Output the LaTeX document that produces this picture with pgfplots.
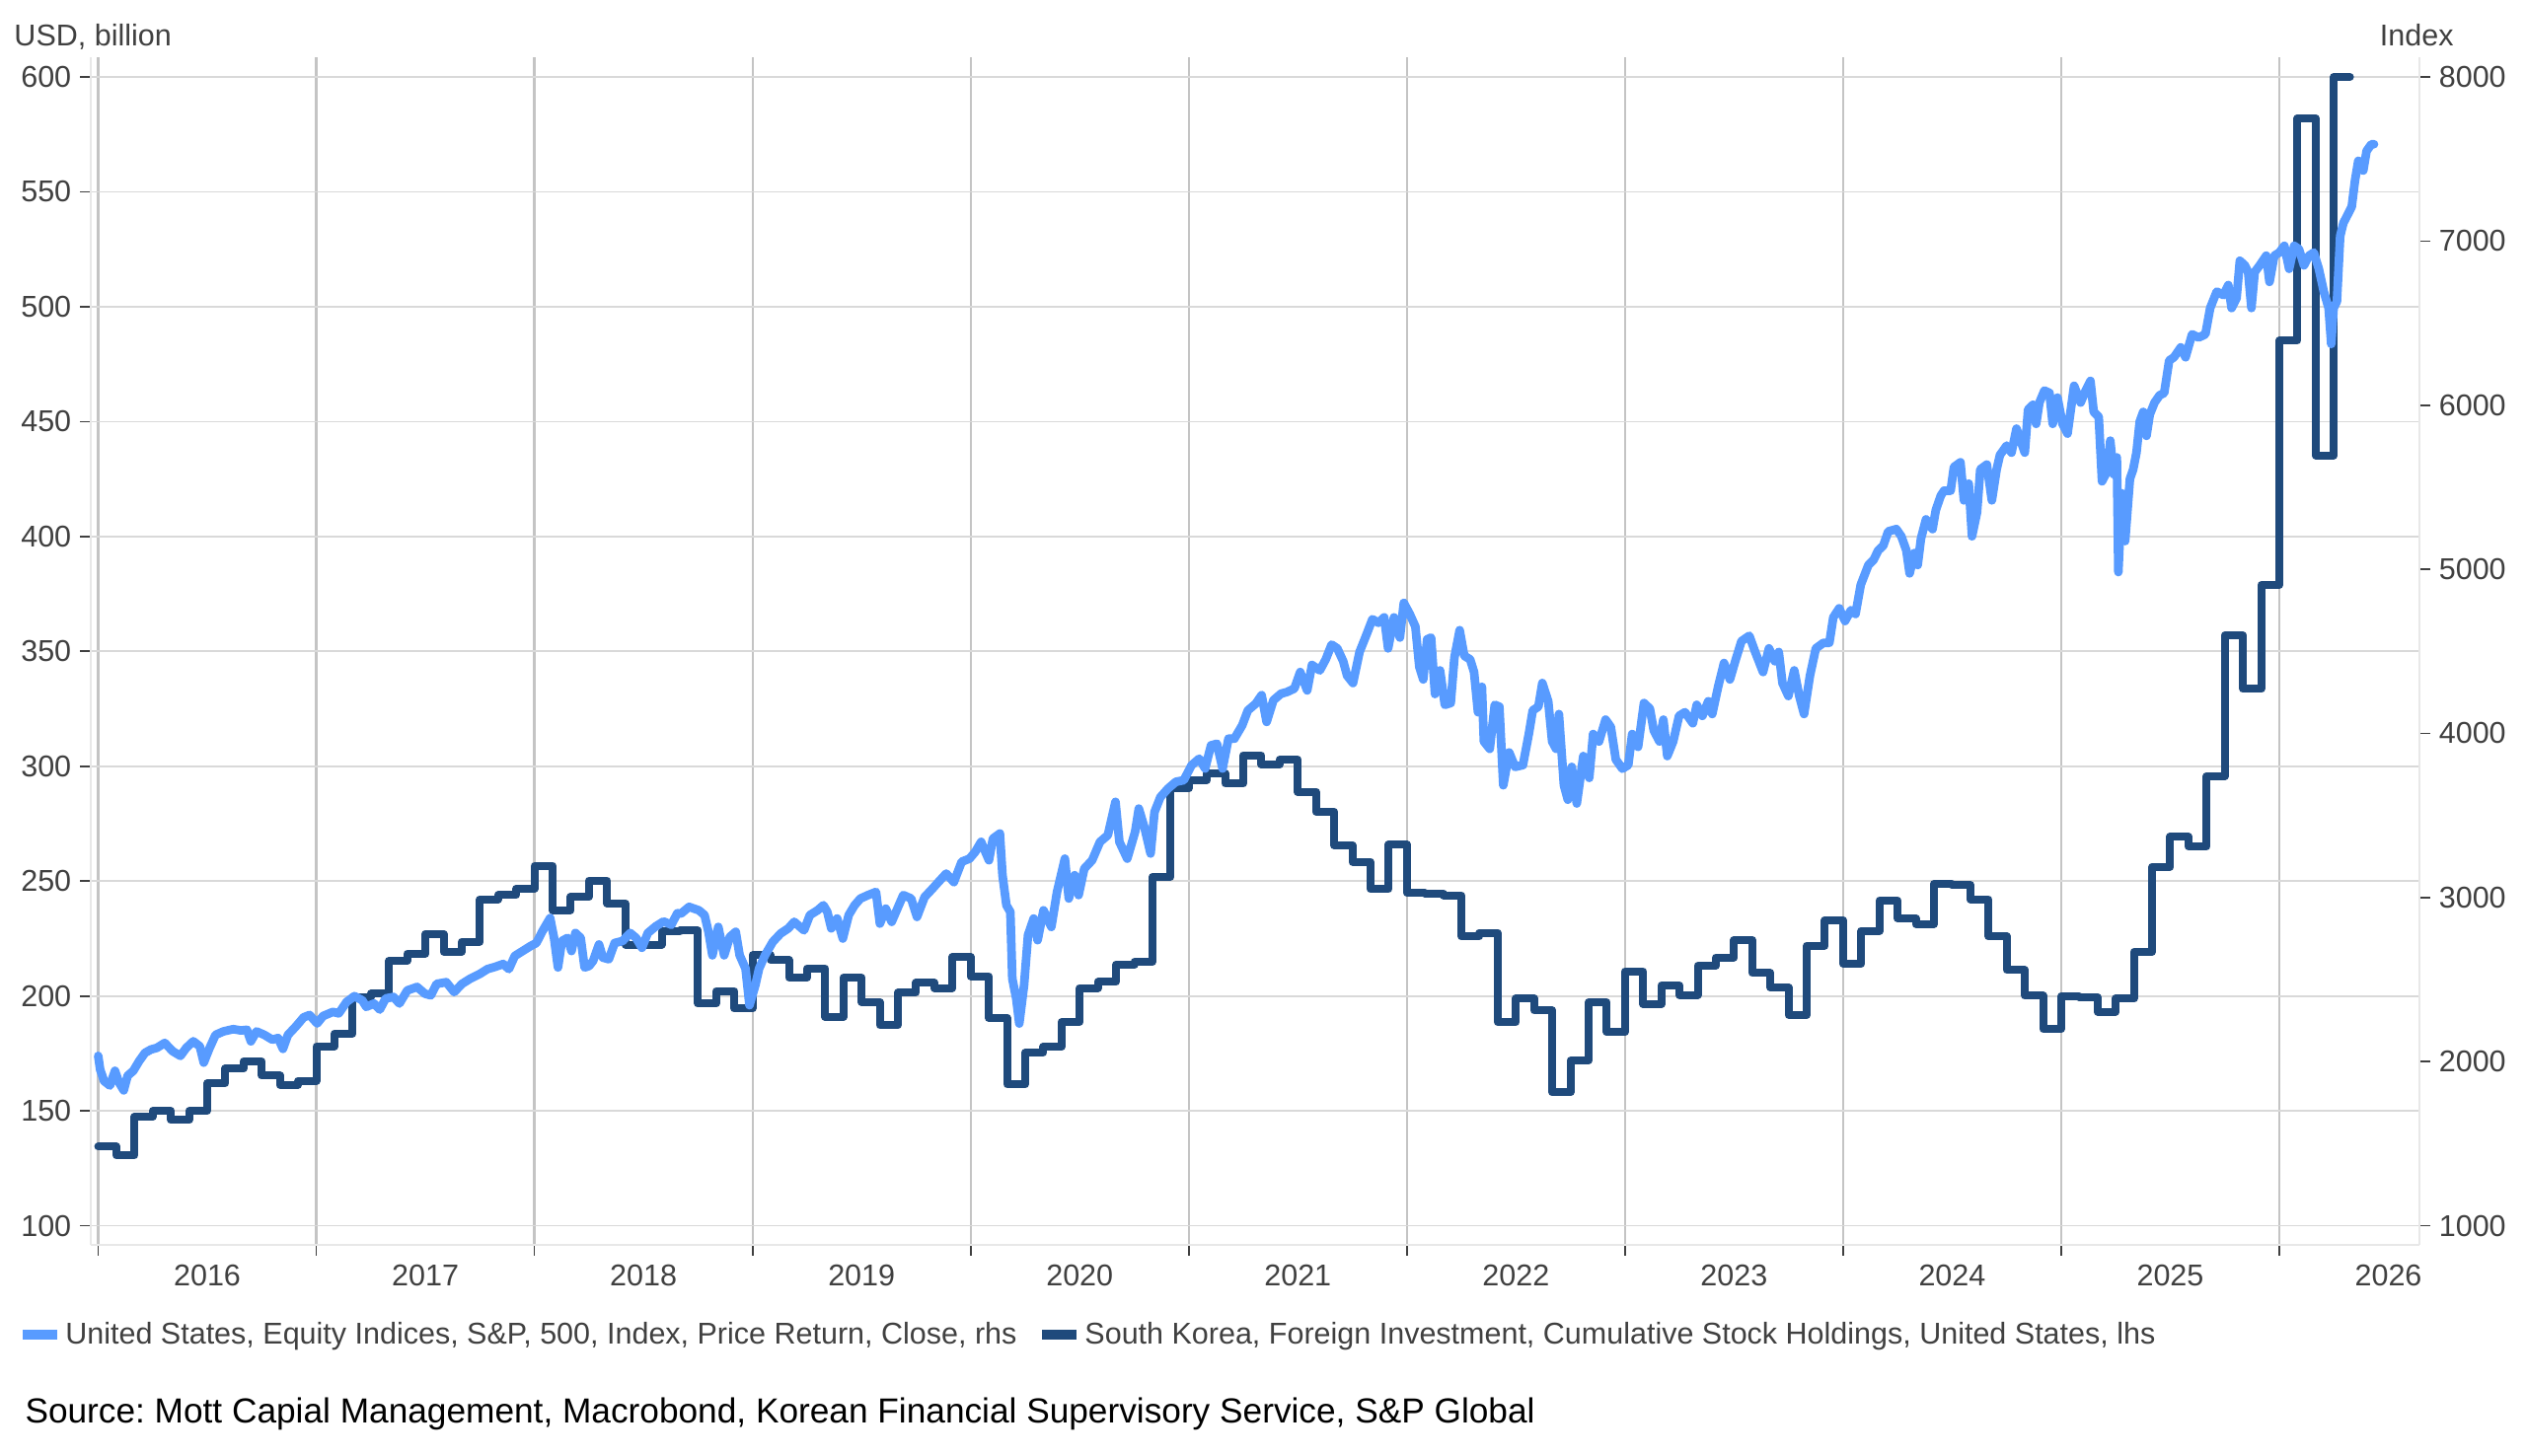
\documentclass[border=0pt]{standalone}
\usepackage{fontspec}
\setmainfont{Liberation Sans}
\usepackage{pgfplots}
\usepackage{pgfplotstable}
\pgfplotsset{compat=1.18}
\definecolor{lightser}{HTML}{589BFF}
\definecolor{darkser}{HTML}{1F4A7C}
\definecolor{txt}{HTML}{404040}
\definecolor{gridh}{HTML}{D9D9D9}
\definecolor{gridv}{HTML}{C4C4C4}
\frenchspacing

\pgfplotstableread{
x y
2016.0000 134.4
2016.0833 130.6
2016.1667 147.4
2016.2500 150.0
2016.3333 146.0
2016.4167 150.0
2016.5000 162.0
2016.5833 168.4
2016.6667 171.6
2016.7500 165.3
2016.8333 161.3
2016.9167 163.1
2017.0000 178.1
2017.0833 183.6
2017.1667 199.6
2017.2500 201.0
2017.3333 215.3
2017.4167 218.4
2017.5000 227.0
2017.5833 219.3
2017.6667 223.6
2017.7500 242.0
2017.8333 243.9
2017.9167 246.7
2018.0000 256.7
2018.0833 237.4
2018.1667 243.1
2018.2500 250.3
2018.3333 240.3
2018.4167 222.4
2018.5000 222.4
2018.5833 228.0
2018.6667 228.5
2018.7500 196.7
2018.8333 202.2
2018.9167 194.5
2019.0000 217.7
2019.0833 215.6
2019.1667 208.0
2019.2500 212.0
2019.3333 191.0
2019.4167 208.0
2019.5000 197.4
2019.5833 187.3
2019.6667 201.4
2019.7500 205.7
2019.8333 203.5
2019.9167 217.0
2020.0000 208.6
2020.0833 190.5
2020.1667 161.5
2020.2500 175.3
2020.3333 177.9
2020.4167 188.7
2020.5000 203.5
2020.5833 206.1
2020.6667 213.7
2020.7500 214.9
2020.8333 251.8
2020.9167 290.3
2021.0000 293.9
2021.0833 296.8
2021.1667 292.4
2021.2500 304.8
2021.3333 300.7
2021.4167 302.9
2021.5000 288.9
2021.5833 280.2
2021.6667 265.6
2021.7500 258.4
2021.8333 246.5
2021.9167 265.9
2022.0000 244.9
2022.0833 244.6
2022.1667 243.8
2022.2500 225.9
2022.3333 227.5
2022.4167 188.6
2022.5000 198.9
2022.5833 193.7
2022.6667 158.1
2022.7500 171.9
2022.8333 197.3
2022.9167 184.3
2023.0000 210.8
2023.0833 196.5
2023.1667 204.6
2023.2500 200.5
2023.3333 213.2
2023.4167 216.8
2023.5000 224.3
2023.5833 210.0
2023.6667 203.7
2023.7500 191.7
2023.8333 221.9
2023.9167 233.0
2024.0000 214.0
2024.0833 228.4
2024.1667 241.6
2024.2500 233.8
2024.3333 231.3
2024.4167 248.8
2024.5000 248.3
2024.5833 242.1
2024.6667 225.9
2024.7500 211.3
2024.8333 200.1
2024.9167 185.6
2025.0000 199.9
2025.0833 199.5
2025.1667 193.2
2025.2500 198.8
2025.3333 219.2
2025.4167 256.2
2025.5000 269.3
2025.5833 265.0
2025.6667 295.7
2025.7500 357.0
2025.8333 333.6
2025.9167 378.9
2026.0000 485.2
2026.0833 582.0
2026.1667 435.3
2026.2500 600.0
2026.3240 600.0
}\koreatable

\pgfplotstableread{
x y
2016.000 2035
2016.009 1952
2016.027 1882
2016.054 1854
2016.077 1944
2016.095 1874
2016.117 1825
2016.135 1914
2016.161 1944
2016.188 2004
2016.215 2054
2016.242 2074
2016.269 2084
2016.305 2114
2016.341 2064
2016.377 2035
2016.404 2084
2016.436 2124
2016.466 2093
2016.484 1994
2016.511 2084
2016.538 2163
2016.574 2184
2016.619 2198
2016.655 2190
2016.682 2194
2016.700 2124
2016.726 2184
2016.762 2163
2016.798 2134
2016.825 2144
2016.847 2078
2016.870 2163
2016.906 2214
2016.942 2270
2016.969 2284
2017.004 2233
2017.031 2278
2017.076 2303
2017.103 2294
2017.139 2364
2017.175 2399
2017.211 2373
2017.229 2334
2017.265 2354
2017.291 2317
2017.318 2385
2017.354 2394
2017.381 2354
2017.417 2434
2017.462 2455
2017.498 2414
2017.525 2404
2017.552 2474
2017.596 2484
2017.632 2424
2017.668 2474
2017.704 2504
2017.749 2534
2017.785 2564
2017.821 2578
2017.857 2595
2017.883 2564
2017.910 2644
2017.946 2674
2017.982 2704
2018.009 2723
2018.036 2793
2018.072 2875
2018.090 2754
2018.108 2574
2018.126 2735
2018.152 2754
2018.170 2674
2018.188 2784
2018.212 2754
2018.230 2574
2018.251 2583
2018.269 2614
2018.296 2714
2018.314 2634
2018.341 2624
2018.368 2723
2018.404 2735
2018.439 2784
2018.466 2754
2018.493 2694
2018.520 2784
2018.556 2824
2018.592 2854
2018.628 2834
2018.655 2904
2018.673 2903
2018.709 2943
2018.754 2922
2018.780 2893
2018.798 2791
2018.816 2648
2018.843 2821
2018.870 2648
2018.896 2760
2018.923 2791
2018.941 2648
2018.968 2567
2018.986 2344
2019.013 2466
2019.030 2567
2019.057 2648
2019.093 2730
2019.129 2781
2019.164 2812
2019.191 2852
2019.236 2800
2019.263 2893
2019.298 2922
2019.325 2953
2019.343 2912
2019.361 2812
2019.388 2872
2019.414 2750
2019.441 2893
2019.468 2953
2019.495 2994
2019.530 3015
2019.566 3034
2019.584 2841
2019.611 2932
2019.638 2852
2019.664 2932
2019.691 3015
2019.727 2994
2019.754 2882
2019.789 3003
2019.825 3054
2019.852 3094
2019.888 3146
2019.923 3094
2019.959 3218
2019.995 3237
2020.021 3278
2020.048 3339
2020.084 3227
2020.102 3359
2020.134 3390
2020.146 3136
2020.164 2953
2020.182 2912
2020.191 2506
2020.209 2385
2020.223 2232
2020.245 2466
2020.263 2771
2020.289 2872
2020.307 2740
2020.334 2922
2020.370 2821
2020.396 3034
2020.432 3237
2020.450 2994
2020.477 3136
2020.495 3015
2020.521 3176
2020.557 3227
2020.593 3339
2020.629 3380
2020.664 3583
2020.682 3339
2020.718 3237
2020.754 3400
2020.771 3542
2020.798 3421
2020.825 3268
2020.843 3521
2020.870 3612
2020.905 3664
2020.941 3705
2020.977 3715
2021.013 3806
2021.048 3846
2021.075 3786
2021.102 3927
2021.129 3937
2021.155 3786
2021.182 3968
2021.209 3968
2021.245 4049
2021.271 4140
2021.307 4181
2021.334 4233
2021.357 4070
2021.388 4202
2021.423 4242
2021.450 4252
2021.484 4273
2021.511 4374
2021.543 4262
2021.565 4417
2021.601 4384
2021.628 4451
2021.655 4541
2021.681 4518
2021.708 4440
2021.726 4352
2021.753 4307
2021.783 4496
2021.816 4606
2021.842 4696
2021.869 4674
2021.896 4707
2021.914 4518
2021.941 4707
2021.968 4584
2021.986 4795
2022.013 4728
2022.039 4651
2022.057 4406
2022.075 4329
2022.093 4573
2022.111 4584
2022.129 4240
2022.152 4384
2022.174 4174
2022.201 4185
2022.218 4462
2022.242 4629
2022.263 4473
2022.290 4451
2022.308 4374
2022.326 4129
2022.344 4284
2022.353 3951
2022.380 3906
2022.403 4174
2022.424 4163
2022.442 3684
2022.469 3884
2022.496 3796
2022.532 3807
2022.559 3996
2022.577 4140
2022.603 4163
2022.621 4307
2022.648 4196
2022.666 3951
2022.684 3906
2022.697 4118
2022.720 3684
2022.738 3596
2022.756 3796
2022.779 3573
2022.809 3862
2022.836 3729
2022.854 3996
2022.881 3951
2022.911 4084
2022.935 4039
2022.958 3841
2022.988 3785
2023.015 3807
2023.033 3996
2023.060 3918
2023.087 4185
2023.114 4151
2023.132 4018
2023.158 3951
2023.176 4084
2023.194 3862
2023.221 3951
2023.248 4107
2023.275 4129
2023.311 4062
2023.329 4174
2023.355 4107
2023.382 4196
2023.400 4118
2023.427 4284
2023.454 4429
2023.481 4329
2023.508 4451
2023.534 4562
2023.570 4595
2023.597 4496
2023.633 4374
2023.660 4518
2023.687 4440
2023.705 4496
2023.722 4307
2023.749 4228
2023.776 4384
2023.799 4228
2023.821 4118
2023.848 4352
2023.875 4518
2023.910 4552
2023.937 4552
2023.955 4707
2023.982 4762
2024.009 4685
2024.036 4751
2024.057 4728
2024.081 4906
2024.116 5026
2024.139 5056
2024.161 5115
2024.184 5144
2024.207 5231
2024.244 5245
2024.267 5201
2024.290 5115
2024.305 4975
2024.327 5099
2024.342 5026
2024.357 5187
2024.380 5304
2024.410 5245
2024.425 5361
2024.448 5449
2024.463 5479
2024.493 5479
2024.508 5623
2024.538 5652
2024.554 5420
2024.576 5522
2024.591 5201
2024.614 5347
2024.629 5609
2024.659 5638
2024.682 5420
2024.704 5609
2024.719 5696
2024.750 5754
2024.772 5711
2024.795 5857
2024.833 5711
2024.848 5973
2024.870 6002
2024.885 5886
2024.900 6016
2024.923 6089
2024.946 6075
2024.961 5886
2024.983 6046
2025.006 5886
2025.029 5827
2025.044 5973
2025.059 6118
2025.089 6016
2025.112 6089
2025.134 6148
2025.149 5959
2025.172 5929
2025.187 5536
2025.210 5595
2025.225 5784
2025.240 5579
2025.255 5682
2025.262 4983
2025.278 5463
2025.293 5172
2025.315 5551
2025.330 5609
2025.345 5711
2025.360 5900
2025.376 5959
2025.391 5813
2025.406 5943
2025.428 6016
2025.451 6060
2025.472 6074
2025.495 6272
2025.517 6292
2025.548 6352
2025.570 6292
2025.600 6432
2025.630 6412
2025.661 6432
2025.683 6592
2025.713 6692
2025.744 6671
2025.766 6732
2025.781 6592
2025.804 6652
2025.819 6880
2025.842 6852
2025.857 6811
2025.872 6592
2025.887 6811
2025.910 6852
2025.940 6911
2025.955 6751
2025.977 6911
2026.000 6930
2026.023 6971
2026.045 6831
2026.068 6971
2026.090 6951
2026.113 6852
2026.136 6911
2026.158 6930
2026.181 6831
2026.204 6692
2026.226 6592
2026.238 6373
2026.249 6592
2026.264 6632
2026.279 7031
2026.294 7111
2026.317 7170
2026.332 7210
2026.347 7370
2026.362 7489
2026.385 7430
2026.400 7549
2026.422 7590
2026.434 7590
}\sptable

\begin{document}
\begin{tikzpicture}[font=\fontsize{12.2}{14}\selectfont]
\useasboundingbox (-36.8pt,-85.6pt) rectangle (987.2pt,504.8pt);
\begin{axis}[
  at={(0pt,0pt)}, anchor=south west,
  scale only axis, width=944pt, height=481.6pt,
  xmin=2015.966, xmax=2026.6425,
  ymin=91.67, ymax=608.6,
  axis y line*=left, axis x line*=bottom,
  axis line style={draw=black!9, line width=0.8pt, -},
  xtick={2016.5,2017.5,2018.5,2019.5,2020.5,2021.5,2022.5,2023.5,2024.5,2025.5,2026.5},
  xticklabels={2016,2017,2018,2019,2020,2021,2022,2023,2024,2025,2026},
  major x tick style={draw=none},
  minor xtick={2016,2017,2018,2019,2020,2021,2022,2023,2024,2025,2026},
  xminorgrids, minor x grid style={gridv, line width=0.9pt},
  minor x tick style={txt, line width=0.7pt},
  minor tick length=4.4pt,
  ytick={100,150,...,600},
  ymajorgrids, major y grid style={gridh, line width=0.7pt},
  major y tick style={txt, line width=0.7pt},
  major tick length=4.4pt,
  tick align=outside,
  ticklabel style={text=txt, font=\fontsize{12.2}{14}\selectfont},
  /pgf/number format/assume math mode=true,
  /pgf/number format/1000 sep={},
]
\addplot[const plot, darkser, line width=3.2pt, line join=round, line cap=round] table[x=x,y=y] {\koreatable};
\end{axis}
\begin{axis}[
  at={(0pt,0pt)}, anchor=south west,
  scale only axis, width=944pt, height=481.6pt,
  xmin=2015.966, xmax=2026.6425,
  ymin=883.4, ymax=8120.4,
  hide x axis,
  axis y line*=right,
  axis line style={draw=black!9, line width=0.8pt, -},
  ytick={1000,2000,...,8000},
  major y tick style={txt, line width=0.7pt},
  major tick length=4.4pt,
  tick align=outside,
  ticklabel style={text=txt, font=\fontsize{12.2}{14}\selectfont},
  /pgf/number format/assume math mode=true,
  /pgf/number format/1000 sep={},
  legend columns=2,
  legend style={at={(-0.0314,-0.0758)}, anchor=west, draw=none, fill=none,
    inner sep=0pt, text=txt, font=\fontsize{12.2}{14}\selectfont,
    nodes={inner sep=1.2pt},
    /tikz/every even column/.append style={column sep=7.2pt}},
  legend cell align=left,
  legend image code/.code={\draw[#1, line width=4pt, line cap=butt] (0pt,0pt) -- (14pt,0pt);},
]
\addplot[lightser, line width=3.5pt, line join=round, line cap=round] table[x=x,y=y] {\sptable};
\addlegendentry{United States, Equity Indices, S\&P, 500, Index, Price Return, Close, rhs}
\addlegendimage{darkser, line width=3.2pt}
\addlegendentry{South Korea, Foreign Investment, Cumulative Stock Holdings, United States, lhs}
\end{axis}
\node[anchor=base west, inner sep=0pt, text=txt] at (-31.2pt,486.1pt) {USD, billion};
\node[anchor=base east, inner sep=0pt, text=txt] at (958pt,486.1pt) {Index};
\node[anchor=base west, inner sep=0pt, text=black, font=\fontsize{14.1}{17}\selectfont] at (-26.8pt,-72.4pt) {Source: Mott Capial Management, Macrobond, Korean Financial Supervisory Service, S\&P Global};
\end{tikzpicture}
\end{document}
